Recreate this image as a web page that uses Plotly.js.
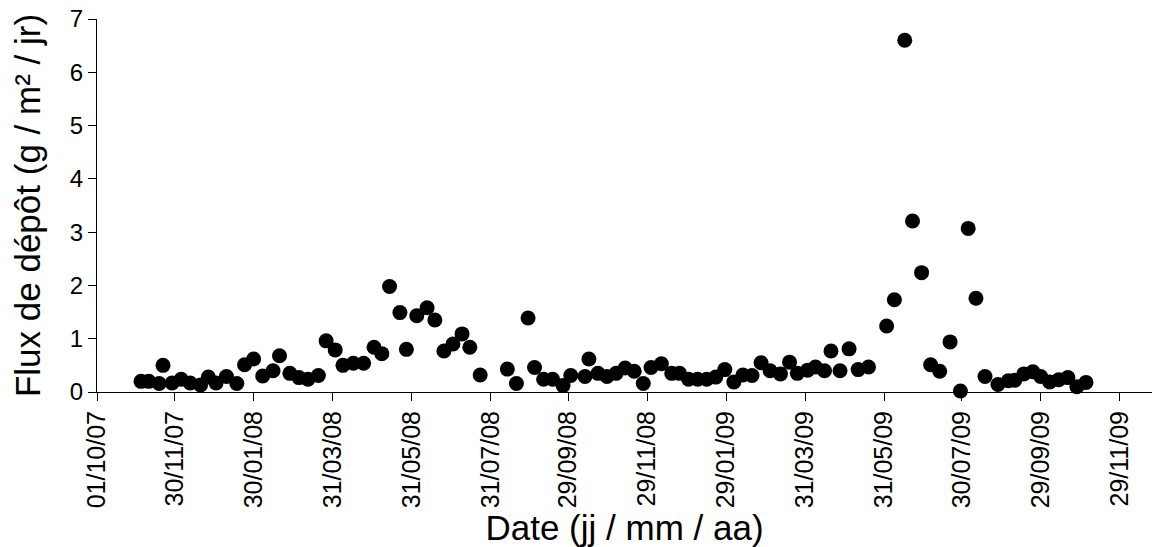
<!DOCTYPE html>
<html>
<head>
<meta charset="utf-8">
<script src="https://cdn.plot.ly/plotly-3.0.1.min.js"></script>
<style>
  html, body { margin: 0; padding: 0; background: #ffffff; }
  #chart { width: 1155px; height: 547px; }
</style>
</head>
<body>
<div id="chart"></div>
<script>
// Sampling dates (yyyy-mm-dd)
const dates = [
  "2007-11-04","2007-11-10","2007-11-18","2007-11-21","2007-11-28","2007-12-05","2007-12-12","2007-12-20","2007-12-26",
  "2008-01-01","2008-01-09","2008-01-17","2008-01-23","2008-01-30","2008-02-06","2008-02-14","2008-02-19","2008-02-27",
  "2008-03-05","2008-03-12","2008-03-20","2008-03-26","2008-04-02","2008-04-08","2008-04-16","2008-04-24",
  "2008-05-02","2008-05-08","2008-05-14","2008-05-22","2008-05-27","2008-06-04","2008-06-12","2008-06-18","2008-06-25",
  "2008-07-02","2008-07-09","2008-07-15","2008-07-23","2008-08-13","2008-08-20","2008-08-29",
  "2008-09-03","2008-09-10","2008-09-17","2008-09-25","2008-10-01","2008-10-12","2008-10-15","2008-10-22","2008-10-29",
  "2008-11-05","2008-11-12","2008-11-19","2008-11-26","2008-12-02","2008-12-10","2008-12-18","2008-12-24","2008-12-31",
  "2009-01-07","2009-01-14","2009-01-21","2009-01-28","2009-02-04","2009-02-11","2009-02-18","2009-02-25",
  "2009-03-04","2009-03-12","2009-03-19","2009-03-25","2009-04-02","2009-04-08","2009-04-15","2009-04-20","2009-04-27",
  "2009-05-04","2009-05-11","2009-05-19","2009-06-02","2009-06-08","2009-06-16","2009-06-22","2009-06-29",
  "2009-07-06","2009-07-13","2009-07-21","2009-07-29","2009-08-04","2009-08-10","2009-08-17","2009-08-27",
  "2009-09-04","2009-09-09","2009-09-16","2009-09-23","2009-09-29","2009-10-06","2009-10-13","2009-10-20","2009-10-27",
  "2009-11-03"
];

// Deposition flux (g / m2 / day)
const flux = [
  0.20,0.20,0.16,0.50,0.17,0.24,0.17,0.13,0.28,
  0.17,0.29,0.16,0.51,0.62,0.30,0.40,0.68,0.35,
  0.27,0.24,0.31,0.96,0.79,0.50,0.54,0.54,
  0.84,0.72,1.98,1.49,0.80,1.43,1.58,1.35,0.77,
  0.90,1.09,0.84,0.32,0.43,0.16,1.39,
  0.46,0.24,0.24,0.12,0.31,0.29,0.62,0.35,0.29,
  0.35,0.45,0.39,0.16,0.46,0.53,0.35,0.35,0.24,
  0.24,0.24,0.28,0.42,0.19,0.32,0.31,0.55,
  0.40,0.34,0.56,0.35,0.41,0.47,0.40,0.77,0.40,
  0.81,0.42,0.47,1.24,1.73,6.60,3.21,2.24,
  0.51,0.39,0.94,0.02,3.07,1.76,0.29,0.14,
  0.21,0.22,0.34,0.38,0.29,0.19,0.23,0.27,0.10,
  0.18
];

// X axis tick positions and labels
const tickDates = ["2007-10-01","2007-11-30","2008-01-30","2008-03-31","2008-05-31","2008-07-31","2008-09-29",
                   "2008-11-29","2009-01-29","2009-03-31","2009-05-31","2009-07-30","2009-09-29","2009-11-29"];
const tickLabels = ["01/10/07","30/11/07","30/01/08","31/03/08","31/05/08","31/07/08","29/09/08",
                    "29/11/08","29/01/09","31/03/09","31/05/09","30/07/09","29/09/09","29/11/09"];
const yTicks = [0,1,2,3,4,5,6,7];

const font = "Liberation Sans, Arial, sans-serif";

const trace = {
  type: "scatter",
  mode: "markers",
  x: dates,
  y: flux,
  cliponaxis: false,
  marker: { color: "#000000", size: 15, line: { width: 0 } },
  hoverinfo: "x+y"
};

const layout = {
  width: 1155,
  height: 547,
  paper_bgcolor: "#ffffff",
  plot_bgcolor: "#ffffff",
  showlegend: false,
  margin: { l: 97, r: 3, t: 19, b: 155 },
  font: { family: font, color: "#000000" },
  xaxis: {
    type: "date",
    range: ["2007-10-01", "2009-12-24"],
    tickmode: "array",
    tickvals: tickDates,
    ticktext: tickLabels,
    tickangle: -90,
    tickfont: { family: font, size: 25, color: "#000000" },
    ticks: "outside",
    ticklen: 8,
    tickwidth: 1,
    tickcolor: "#000000",
    showline: true,
    linecolor: "#000000",
    linewidth: 1,
    showgrid: false,
    zeroline: false,
    automargin: false,
    title: { text: "Date (jj / mm / aa)", font: { family: font, size: 35, color: "#000000" }, standoff: 2 }
  },
  yaxis: {
    range: [0, 7],
    tickmode: "array",
    tickvals: yTicks,
    tickfont: { family: font, size: 24, color: "#000000" },
    ticks: "outside",
    ticklen: 8,
    tickwidth: 1,
    tickcolor: "#000000",
    showline: true,
    linecolor: "#000000",
    linewidth: 1,
    showgrid: false,
    zeroline: false,
    automargin: false,
    title: { text: "Flux de dépôt (g / m² / jr)", font: { family: font, size: 35, color: "#000000" }, standoff: 18 }
  }
};

Plotly.newPlot("chart", [trace], layout, { displayModeBar: false, responsive: false });
</script>
</body>
</html>
